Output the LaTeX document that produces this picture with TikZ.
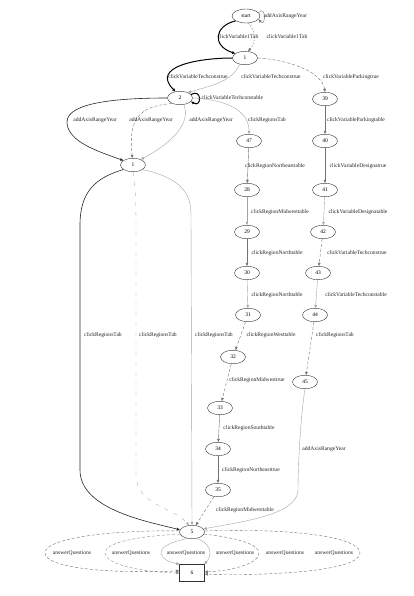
\documentclass[tikz,border=0pt]{standalone}
\usepackage{fontspec}
\setmainfont{Liberation Serif}
\usetikzlibrary{shapes.geometric,arrows.meta}
\begin{document}
\begin{tikzpicture}[x=1pt,y=-1pt,
  st/.style={ellipse,draw=black!80,line width=0.4pt,minimum width=25pt,minimum height=13.5pt,inner sep=0pt,font=\fontsize{5.5}{6}\selectfont},
  bx/.style={rectangle,draw=black!80,line width=0.4pt,minimum width=25pt,minimum height=17pt,inner sep=0pt,font=\fontsize{5.5}{6}\selectfont},
  lb/.style={font=\fontsize{5.6}{6.5}\selectfont,inner sep=0.5pt,text=black!85},
  ed/.style={-{Triangle[length=3.2pt,width=2.6pt]},line width=0.4pt,draw=black!55},
  thk/.style={ed,draw=black,line width=1pt},
  dk/.style={ed,draw=black!85,line width=0.6pt},
  ds/.style={ed,dash pattern=on 3pt off 2pt},
  lt/.style={ed,draw=black!35}
]
\useasboundingbox (0,0) rectangle (414,596);
\fill[white] (0,0) rectangle (414,596);

% nodes
\node[st,minimum width=28pt,minimum height=14pt] (start) at (246,16) {start};
\node[st] (n1) at (245,58) {1};
\node[st] (n2) at (180,98) {2};
\node[st] (n39) at (325,99) {39};
\node[st] (n47) at (249,141) {47};
\node[st] (n40) at (325,141) {40};
\node[st] (n4) at (133,165) {1};
\node[st] (n28) at (247,190) {28};
\node[st] (n41) at (325,190) {41};
\node[st] (n29) at (247,232) {29};
\node[st] (n42) at (323,232) {42};
\node[st] (n30) at (247,273) {30};
\node[st] (n43) at (318,273) {43};
\node[st] (n31) at (248,315) {31};
\node[st] (n44) at (315,315) {44};
\node[st] (n32) at (233,357) {32};
\node[st] (n45) at (305,382) {45};
\node[st] (n33) at (220,408) {33};
\node[st] (n34) at (218,449) {34};
\node[st] (n35) at (218,490) {35};
\node[st] (n5) at (192,532) {5};
\node[bx] (n6) at (192,573) {6};

% start
\draw[ed] (start.15) .. controls (266,4) and (266,28) .. (start.-15);
\node[lb,anchor=west] (l0) at (263,16) {addAxisRangeYear};
\draw[thk] (start.205) .. controls (214,26) and (212,46) .. (n1.155);
\draw[ed,dash pattern=on 1.5pt off 1.5pt] (start.-70) .. controls (256,32) and (256,42) .. (n1.65);
\node[lb] (l1) at (238,37) {clickVariable1Tab};
\node[lb] (l2) at (287,37) {clickVariable1Tab};

% 1 ->
\draw[thk] (n1.west) .. controls (200,58) and (150,66) .. (n2.125);
\node[lb] (l3) at (198,77) {clickVariableTechconstrue};
\draw[lt] (n1.230) .. controls (232,82) and (210,86) .. (n2.35);
\node[lb] (l4) at (271,77) {clickVariableTechconstrue};
\draw[ds] (n1.east) .. controls (290,60) and (322,72) .. (n39.north);
\node[lb] (l5) at (351,77) {clickVariableParkingtrue};

% 2 ->
\draw[thk] (n2.18) .. controls (202,88) and (202,108) .. (n2.-18);
\node[lb,anchor=west] (l6) at (201,98) {clickVariableTechconstable};
\draw[dk] (n2.west) .. controls (120,98) and (67,102) .. (67,122) .. controls (67,142) and (100,152) .. (n4.155);
\node[lb] (l7) at (95,120) {addAxisRangeYear};
\draw[ds] (n2.215) .. controls (140,106) and (128,118) .. (n4.95);
\node[lb] (l8) at (151,120) {addAxisRangeYear};
\draw[lt] (n2.300) .. controls (192,125) and (168,145) .. (n4.35);
\node[lb] (l9) at (211,120) {addAxisRangeYear};
\draw[lt] (n2.east) .. controls (230,100) and (249,112) .. (n47.north);
\node[lb] (l10) at (267,120) {clickRegionsTab};

% right chain
\draw[ed] (n39) -- (n40);
\node[lb] (l11) at (356,120) {clickVariableParkingtable};
\draw[ed] (n40) -- (n41);
\node[lb] (l12) at (358,166) {clickVariableDesignatrue};
\draw[lt] (n41) -- (n42);
\node[lb] (l13) at (358,212) {clickVariableDesignatable};
\draw[ds] (n42) -- (n43);
\node[lb] (l14) at (357,253) {clickVariableTechconstrue};
\draw[lt] (n43) -- (n44);
\node[lb] (l15) at (356,295) {clickVariableTechconstable};
\draw[ds] (n44) -- (n45);
\node[lb] (l16) at (335,335) {clickRegionsTab};

% middle chain
\draw[ed] (n47) -- (n28);
\node[lb] (l17) at (275,166) {clickRegionNortheasttable};
\draw[lt] (n28) -- (n29);
\node[lb] (l18) at (280,212) {clickRegionMidwesttable};
\draw[ed] (n29) -- (n30);
\node[lb] (l19) at (277,253) {clickRegionNorthtable};
\draw[lt] (n30) -- (n31);
\node[lb] (l20) at (277,295) {clickRegionNorthtable};
\draw[ds] (n31) -- (n32);
\node[lb] (l21) at (271,335) {clickRegionWesttable};
\draw[ds] (n32) -- (n33);
\node[lb] (l22) at (257,380) {clickRegionMidwesttrue};
\draw[ed] (n33) -- (n34);
\node[lb] (l23) at (249,428) {clickRegionSouthtable};
\draw[ed] (n34) -- (n35);
\node[lb] (l24) at (251,470) {clickRegionNortheasttrue};
\draw[ds] (n35) -- (n5.60);
\node[lb] (l25) at (245,510) {clickRegionMidwesttable};
\draw[lt] (n45.south) .. controls (300,420) and (298,470) .. (298,490) .. controls (298,515) and (240,522) .. (n5.15);
\node[lb] (l26) at (324,449) {addAxisRangeYear};

% 4 -> 5
\draw[dk] (n4.205) .. controls (95,178) and (80,192) .. (80,225) -- (80,470) .. controls (80,510) and (150,522) .. (n5.170);
\node[lb] (l27) at (103,335) {clickRegionsTab};
\draw[ed,draw=black!30,dash pattern=on 4pt off 6pt] (n4.south) .. controls (136,190) and (136,210) .. (136,230) -- (136,475) .. controls (136,505) and (175,508) .. (n5.115);
\node[lb] (l28) at (158,335) {clickRegionsTab};
\draw[lt] (n4.-25) .. controls (180,178) and (191,192) .. (191,215) -- (n5.north);
\node[lb] (l29) at (214,335) {clickRegionsTab};

% 5 -> 6
\draw[ds] (n5.175) .. controls (110,530) and (45,538) .. (45,553) .. controls (45,568) and (110,574) .. (n6.170);
\node[lb] (l30) at (72,553) {answerQuestions};
\draw[ds,draw=black!45] (n5.190) .. controls (140,536) and (105,542) .. (105,553) .. controls (105,564) and (140,572) .. (n6.180);
\node[lb] (l31) at (131,553) {answerQuestions};
\draw[lt] (n5.235) .. controls (170,542) and (161,547) .. (161,553) .. controls (161,559) and (170,562) .. (n6.145);
\node[lb] (l32) at (186,553) {answerQuestions};
\draw[lt] (n5.-55) .. controls (206,542) and (210,547) .. (210,553) .. controls (210,558) and (207,561) .. (n6.35);
\node[lb] (l33) at (235,553) {answerQuestions};
\draw[ds] (n5.-10) .. controls (240,538) and (259,545) .. (259,553) .. controls (259,564) and (230,571) .. (n6.5);
\node[lb] (l34) at (285,553) {answerQuestions};
\draw[ds] (n5.5) .. controls (300,528) and (360,538) .. (360,553) .. controls (360,570) and (280,576) .. (n6.-5);
\node[lb] (l35) at (334,553) {answerQuestions};
\end{tikzpicture}
\end{document}
